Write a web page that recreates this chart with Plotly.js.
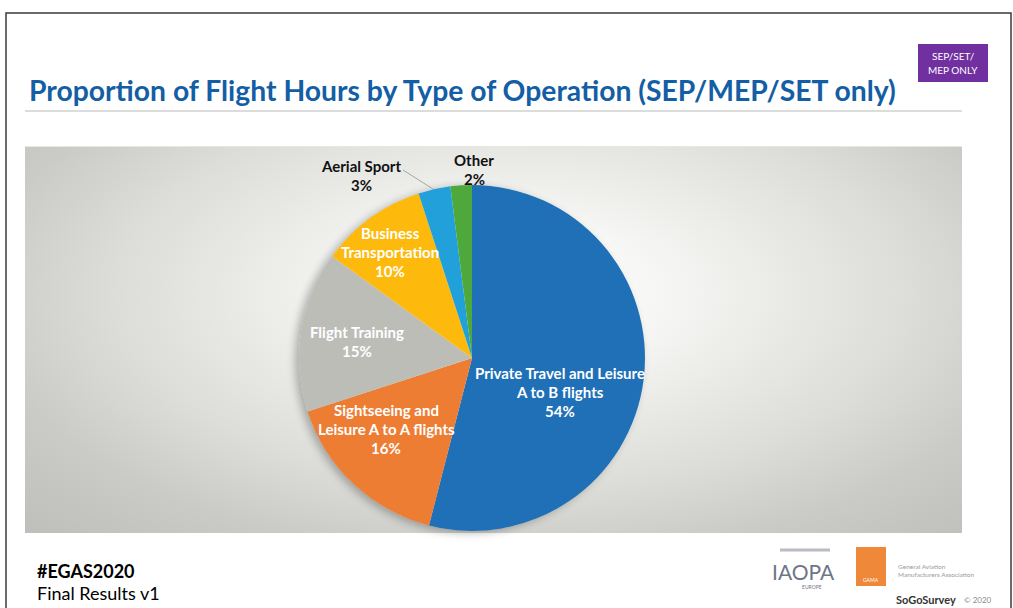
<!DOCTYPE html>
<html>
<head>
<meta charset="utf-8">
<script src="https://cdn.plot.ly/plotly-3.0.1.min.js"></script>
<style>
  body { margin: 0; background: #fff; overflow: hidden; }
  #wrap { position: relative; width: 1013px; height: 608px; }
  #chartbg {
    position: absolute; left: 25px; top: 146px; width: 937px; height: 386px;
    background: radial-gradient(ellipse at 52% 38%, #ffffff 0%, #f6f6f4 22%, #dcdcd8 58%, #cacac6 78%, #bebeba 100%);
    border-top: 1px solid #e6e6e4;
  }
  #pieshadow {
    position: absolute; left: 299px; top: 185px; width: 346px; height: 346px;
    border-radius: 50%; box-shadow: -4px 2px 9px rgba(0,0,0,0.28);
  }
  #graph { position: absolute; left: 0; top: 0; }
</style>
</head>
<body>
<div id="wrap">
  <div id="chartbg"></div>
  <div id="pieshadow"></div>
  <div id="graph"></div>
</div>
<script>
// proportion of flight hours by type of operation
var labels = ['Private Travel and Leisure<br>A to B flights',
              'Sightseeing and<br>Leisure A to A flights',
              'Flight Training',
              'Business<br>Transportation',
              'Aerial Sport',
              'Other'];
var values = [54, 16, 15, 10, 3, 2];
var colors = ['#1f70b7', '#ee7d34', '#bdbdb8', '#fdba0c', '#21a0d9', '#4ea83c'];

// label placement (pixel centre x, first line y) and colour, as on the slide
var labelPos = [[560, 373], [386, 410], [357, 332], [390, 233], [361, 166], [474, 160]];
var labelCol = ['#fff', '#fff', '#fff', '#fff', '#111', '#111'];

var W = 1013, H = 608;
function px(x) { return x / W; }
function py(y) { return 1 - y / H; }

var trace = {
  type: 'pie',
  values: values,
  labels: labels,
  sort: false,
  direction: 'clockwise',
  rotation: 0,
  textinfo: 'none',
  hoverinfo: 'label+percent',
  marker: { colors: colors, line: { width: 0 } },
  domain: { x: [px(299), px(645)], y: [py(531), py(185)] },
  showlegend: false
};

var ann = [];
var shapes = [];

function note(text, x, y, size, color, anchor, extra) {
  var a = {
    text: text, x: px(x), y: py(y), xref: 'paper', yref: 'paper',
    xanchor: anchor || 'center', yanchor: 'middle', showarrow: false,
    font: { family: 'Lato, sans-serif', size: size, color: color }
  };
  for (var k in (extra || {})) a[k] = extra[k];
  ann.push(a);
}

// slice labels, one annotation per line
for (var i = 0; i < labels.length; i++) {
  var lines = labels[i].split('<br>');
  lines.push(values[i] + '%');
  for (var j = 0; j < lines.length; j++) {
    note('<b>' + lines[j] + '</b>', labelPos[i][0], labelPos[i][1] + j * 19.2, 15, labelCol[i]);
  }
}
// leader line for Aerial Sport
shapes.push({ type: 'line', xref: 'paper', yref: 'paper',
  x0: px(403), y0: py(170), x1: px(433), y1: py(189),
  line: { color: '#a6a6a6', width: 1 } });

// title and rule
note('<b>Proportion of Flight Hours by Type of Operation (SEP/MEP/SET only)</b>', 27, 90, 28.3, '#135ea4', 'left');
shapes.push({ type: 'line', xref: 'paper', yref: 'paper',
  x0: px(25), y0: py(111), x1: px(962), y1: py(111),
  line: { color: '#dcdcda', width: 2 } });

// slide frame
shapes.push({ type: 'rect', xref: 'paper', yref: 'paper',
  x0: px(6), y0: py(13), x1: px(1011), y1: py(640),
  line: { color: '#3a3a3a', width: 1.5 }, fillcolor: 'rgba(0,0,0,0)' });

// badge
shapes.push({ type: 'rect', xref: 'paper', yref: 'paper',
  x0: px(918), y0: py(44), x1: px(988), y1: py(82),
  line: { width: 0 }, fillcolor: '#7030a0' });
note('SEP/SET/', 953, 56, 10, '#fff');
note('MEP ONLY', 953, 70, 10, '#fff');

// footer
note('<b>#EGAS2020</b>', 35, 571, 18, '#000', 'left');
note('Final Results v1', 35, 593, 18, '#000', 'left');

// sponsor marks (rough)
shapes.push({ type: 'line', xref: 'paper', yref: 'paper',
  x0: px(780), y0: py(550), x1: px(830), y1: py(550),
  line: { color: '#b9bcc2', width: 3 } });
note('IAOPA', 803, 571, 21, '#6d7686');
note('EUROPE', 812, 587, 5, '#6d7686');
shapes.push({ type: 'rect', xref: 'paper', yref: 'paper',
  x0: px(856), y0: py(547), x1: px(886), y1: py(586),
  line: { width: 0 }, fillcolor: '#f0883a' });
note('GAMA', 871, 580, 5, '#fff');
note('General Aviation<br>Manufacturers Association', 896, 570, 6.5, '#9a9a9a', 'left', { align: 'left' });
note('<b>SoGoSurvey</b>', 894, 599, 11, '#333', 'left');
note('© 2020', 962, 600, 8, '#8a8a8a', 'left');

var layout = {
  width: W, height: H,
  margin: { l: 0, r: 0, t: 0, b: 0 },
  paper_bgcolor: 'rgba(0,0,0,0)',
  plot_bgcolor: 'rgba(0,0,0,0)',
  annotations: ann,
  shapes: shapes,
  showlegend: false
};

Plotly.newPlot('graph', [trace], layout, { displayModeBar: false, staticPlot: true });
</script>
</body>
</html>
